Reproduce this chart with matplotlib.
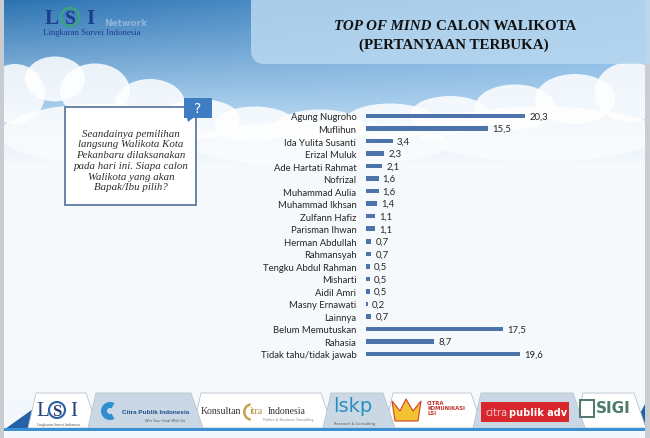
import numpy as np
import matplotlib
matplotlib.use("Agg")
import matplotlib.pyplot as plt
from matplotlib.patches import FancyBboxPatch, Ellipse, Polygon, Rectangle, Circle, Wedge

# ---------------- data ----------------
categories = ["Agung Nugroho", "Muflihun", "Ida Yulita Susanti", "Erizal Muluk",
              "Ade Hartati Rahmat", "Nofrizal", "Muhammad Aulia", "Muhammad Ikhsan",
              "Zulfann Hafiz", "Parisman Ihwan", "Herman Abdullah", "Rahmansyah",
              "Tengku Abdul Rahman", "Misharti", "Aidil Amri", "Masny Ernawati",
              "Lainnya", "Belum Memutuskan", "Rahasia", "Tidak tahu/tidak jawab"]
values = [20.3, 15.5, 3.4, 2.3, 2.1, 1.6, 1.6, 1.4, 1.1, 1.1, 0.7, 0.7,
          0.5, 0.5, 0.5, 0.2, 0.7, 17.5, 8.7, 19.6]
value_labels = [f"{v:.1f}".replace(".", ",") for v in values]

title_italic = "TOP OF MIND"
title_rest = "CALON WALIKOTA"
title_line2 = "(PERTANYAAN TERBUKA)"
question = ("Seandainya pemilihan\nlangsung Walikota Kota\nPekanbaru dilaksanakan\n"
            "pada hari ini. Siapa calon\nWalikota yang akan\nBapak/Ibu pilih?")

W, H = 650, 439
fig = plt.figure(figsize=(W / 100, H / 100), dpi=100)

# ---------------- background ----------------
bg = fig.add_axes([0, 0, 1, 1])
bg.set_xlim(0, W)
bg.set_ylim(H, 0)
bg.axis("off")

def hx(c):
    c = c.lstrip("#")
    return np.array([int(c[i:i + 2], 16) for i in (0, 2, 4)]) / 255.0

xs = np.linspace(0, 1, W)[None, :, None]
ys = np.arange(H)[:, None, None].astype(float)
top = hx("#2b72b1") * (1 - xs) + hx("#74ade0") * xs
mid = hx("#b0d3ef") * np.ones_like(xs)
low = hx("#f3f8fc") * np.ones_like(xs)
t1 = np.clip(ys / 115.0, 0, 1)
t2 = np.clip((ys - 115) / 50.0, 0, 1)
img = np.where(ys < 115, top * (1 - t1) + mid * t1, mid * (1 - t2) + low * t2)
img = np.clip(img, 0, 1)
bg.imshow(img, extent=(0, W, H, 0), aspect="auto", zorder=0, interpolation="bilinear")

# clouds
clouds = [(15, 95, 60, 60), (55, 80, 60, 45), (95, 92, 70, 55), (150, 105, 70, 50),
          (200, 120, 80, 40), (255, 125, 80, 35), (320, 128, 90, 35), (390, 122, 90, 35),
          (450, 116, 80, 38), (515, 108, 80, 45), (575, 100, 80, 50), (630, 93, 70, 60),
          (100, 135, 200, 60), (320, 145, 260, 45), (540, 135, 240, 55)]
for cx, cy, w, h in clouds:
    bg.add_patch(Ellipse((cx, cy), w, h, facecolor="white", edgecolor="none",
                         alpha=0.85, zorder=1))
bg.add_patch(Rectangle((0, 140), W, 260, facecolor="#f7fafd", edgecolor="none",
                       alpha=0.6, zorder=1))
# grey border strips
bg.add_patch(Rectangle((0, 0), 4, H, facecolor="#c9cdd2", edgecolor="none", zorder=2))
bg.add_patch(Rectangle((645, 0), 5, H, facecolor="#c9cdd2", edgecolor="none", zorder=2))

# title box
bg.add_patch(FancyBboxPatch((251, -20), 420, 85, boxstyle="round,pad=0,rounding_size=14",
                            facecolor="#b9d8f0", edgecolor="none", alpha=0.85, zorder=3))
tfont = dict(family="Liberation Serif", weight="bold", size=10.8, color="#111111", zorder=4)
bg.text(432, 26, title_italic, ha="right", va="center", style="italic", **tfont)
bg.text(436, 26, title_rest, ha="left", va="center", **tfont)
bg.text(454, 45, title_line2, ha="center", va="center", **tfont)

# LSI logo top-left
bg.text(45, 19, "L", family="Liberation Serif", weight="bold", size=15, color="#1c3c8e",
        ha="left", va="center", zorder=4)
bg.add_patch(Circle((70, 18), 9, facecolor="none", edgecolor="#3aa57a", lw=1.6, zorder=4))
bg.text(70, 19, "S", family="Liberation Serif", weight="bold", size=14, color="#1c3c8e",
        ha="center", va="center", zorder=5)
bg.text(86, 19, "I", family="Liberation Serif", weight="bold", size=15, color="#1c3c8e",
        ha="left", va="center", zorder=4)
bg.text(104, 23, "Network", family="DejaVu Sans", weight="bold", size=6.5, color="#8fb4da",
        ha="left", va="center", zorder=4)
bg.text(43, 33, "Lingkaran Survei Indonesia", family="Liberation Serif", size=6.3,
        color="#1c3c8e", ha="left", va="center", zorder=4)

# question box
bg.add_patch(Rectangle((65, 108), 131, 98, facecolor="white", edgecolor="#6a84a6",
                       lw=1.4, zorder=4))
bg.add_patch(Rectangle((184, 99), 28, 20, facecolor="#3f7dc2", edgecolor="none", zorder=5))
bg.add_patch(Polygon([(187, 119), (193, 119), (188, 123)], closed=True,
                     facecolor="#3f7dc2", edgecolor="none", zorder=5))
bg.text(198, 109, "?", color="white", size=10, ha="center", va="center",
        family="DejaVu Sans", zorder=6)
bg.text(131, 161, question, ha="center", va="center", family="Liberation Serif",
        style="italic", size=7.8, color="#2e2e2e", linespacing=1.25, zorder=6)

# ---------------- chart ----------------
px_per_unit = 7.85
ax_left, ax_right = 366, 646
row_top, row_bot = 117, 355
n = len(categories)
step = (row_bot - row_top) / (n - 1)
y_top_px = row_top - step / 2
y_bot_px = row_bot + step / 2
ax = fig.add_axes([ax_left / W, 1 - y_bot_px / H, (ax_right - ax_left) / W,
                   (y_bot_px - y_top_px) / H])
ax.patch.set_alpha(0)
ypos = np.arange(n)
ax.barh(ypos, values, height=0.36, color="#4c74ab", zorder=3)
ax.set_xlim(0, (ax_right - ax_left) / px_per_unit)
ax.set_ylim(n - 0.5, -0.5)
ax.set_yticks(ypos)
ax.set_yticklabels(categories, family="Lato", size=6.8, color="#262626")
ax.tick_params(axis="y", length=0, pad=7)
ax.set_xticks([])
for s in ax.spines.values():
    s.set_visible(False)
for y, v, lab in zip(ypos, values, value_labels):
    ax.annotate(lab, (v, y), xytext=(3, 0), textcoords="offset points",
                ha="left", va="center", family="Lato", size=6.9, color="#262626")

# ---------------- footer ----------------
bg.add_patch(Polygon([(5, 430), (40, 430), (40, 405)], closed=True,
                     facecolor="#2563a6", edgecolor="none", zorder=4))
bg.add_patch(Polygon([(632, 430), (645, 430), (645, 405)], closed=True,
                     facecolor="#2563a6", edgecolor="none", zorder=4))
tabs = [(30, 92, "#ffffff"), (90, 197, "#c9d8e4"), (195, 327, "#ffffff"),
        (325, 389, "#c9d8e4"), (387, 477, "#ffffff"), (475, 579, "#c9d8e4"),
        (577, 640, "#ffffff")]
for i, (x0, x1, col) in enumerate(tabs):
    z = 5 if col != "#ffffff" else 4
    bg.add_patch(Polygon([(x0 - 2, 429), (x0 + 6, 394), (x1 - 6, 394), (x1 + 6, 429)],
                         closed=True, facecolor=col, edgecolor="#b9c3cc", lw=0.6, zorder=z))
bg.add_patch(Rectangle((4, 429), 641, 3, facecolor="#3b90d4", edgecolor="none", zorder=6))

# LSI
bg.text(36, 412, "L", family="Liberation Serif", size=15, color="#2a3f7a", va="center", zorder=7)
bg.add_patch(Circle((57, 411), 8, facecolor="none", edgecolor="#2a5fa8", lw=1.5, zorder=7))
bg.text(57, 412, "S", family="Liberation Serif", size=12, color="#2a3f7a", weight="bold",
        ha="center", va="center", zorder=7)
bg.text(70, 412, "I", family="Liberation Serif", size=15, color="#2a3f7a", va="center", zorder=7)
bg.text(58, 425, "Lingkaran Survei Indonesia", family="Liberation Serif", size=2.8,
        color="#555555", ha="center", va="center", zorder=7)
# Citra Publik Indonesia
bg.add_patch(Wedge((110, 412), 9, 60, 300, width=6, facecolor="#2f8fcf", edgecolor="none", zorder=7))
bg.text(122, 413, "Citra Publik Indonesia", family="Liberation Sans", weight="bold", size=4.6,
        color="#1d4f8c", ha="left", va="center", zorder=7)
bg.text(185, 421, "Win Your Goal With Us", family="DejaVu Sans", style="italic", size=2.6,
        color="#555555", ha="right", va="center", zorder=7)
# Konsultan citra Indonesia
bg.text(201, 412, "Konsultan", family="Liberation Serif", size=7, color="#333333",
        ha="left", va="center", zorder=7)
bg.add_patch(Wedge((252, 413), 9, 100, 260, width=2.5, facecolor="#c8a24a", edgecolor="none", zorder=7))
bg.text(250, 412, "itra", family="Liberation Serif", size=7, color="#b08a2e",
        ha="left", va="center", zorder=7)
bg.text(268, 412, "Indonesia", family="Liberation Serif", size=7, color="#333333",
        ha="left", va="center", zorder=7)
bg.text(288, 420, "Politics & Business Consulting", family="DejaVu Sans", size=2.4,
        color="#888888", ha="center", va="center", zorder=7)
# lskp
bg.text(353, 407, "lskp", family="DejaVu Sans", size=14, color="#2a8fc0",
        ha="center", va="center", zorder=7)
bg.text(354, 424, "Research & Consulting", family="DejaVu Sans", size=2.6, color="#555555",
        ha="center", va="center", zorder=7)
# Citra Komunikasi LSI
bg.add_patch(Polygon([(392, 402), (400, 412), (406, 400), (413, 412), (421, 402), (418, 422), (395, 422)],
                     closed=True, facecolor="#f1c232", edgecolor="#d0402a", lw=0.8, zorder=7))
bg.text(427, 409, "CITRA\nKOMUNIKASI\nLSI", family="DejaVu Sans", weight="bold", size=3.8,
        color="#c0302a", ha="left", va="center", linespacing=1.0, zorder=7)
# citrapublik adv
bg.add_patch(Rectangle((481, 403), 88, 20, facecolor="#d8262c", edgecolor="none", zorder=7))
bg.text(486, 413, "citra", family="DejaVu Sans", size=7, color="#f4c9c9",
        ha="left", va="center", zorder=8)
bg.text(509, 413, "publik adv", family="DejaVu Sans", weight="bold", size=7, color="white",
        ha="left", va="center", zorder=8)
# SIGI
bg.add_patch(Rectangle((580, 401), 14, 17, facecolor="none", edgecolor="#4e7a6a", lw=1.4, zorder=7))
bg.text(596, 409, "SIGI", family="DejaVu Sans", weight="bold", size=11, color="#4e7a6a",
        ha="left", va="center", zorder=7)

fig.savefig("out.png", dpi=100)
